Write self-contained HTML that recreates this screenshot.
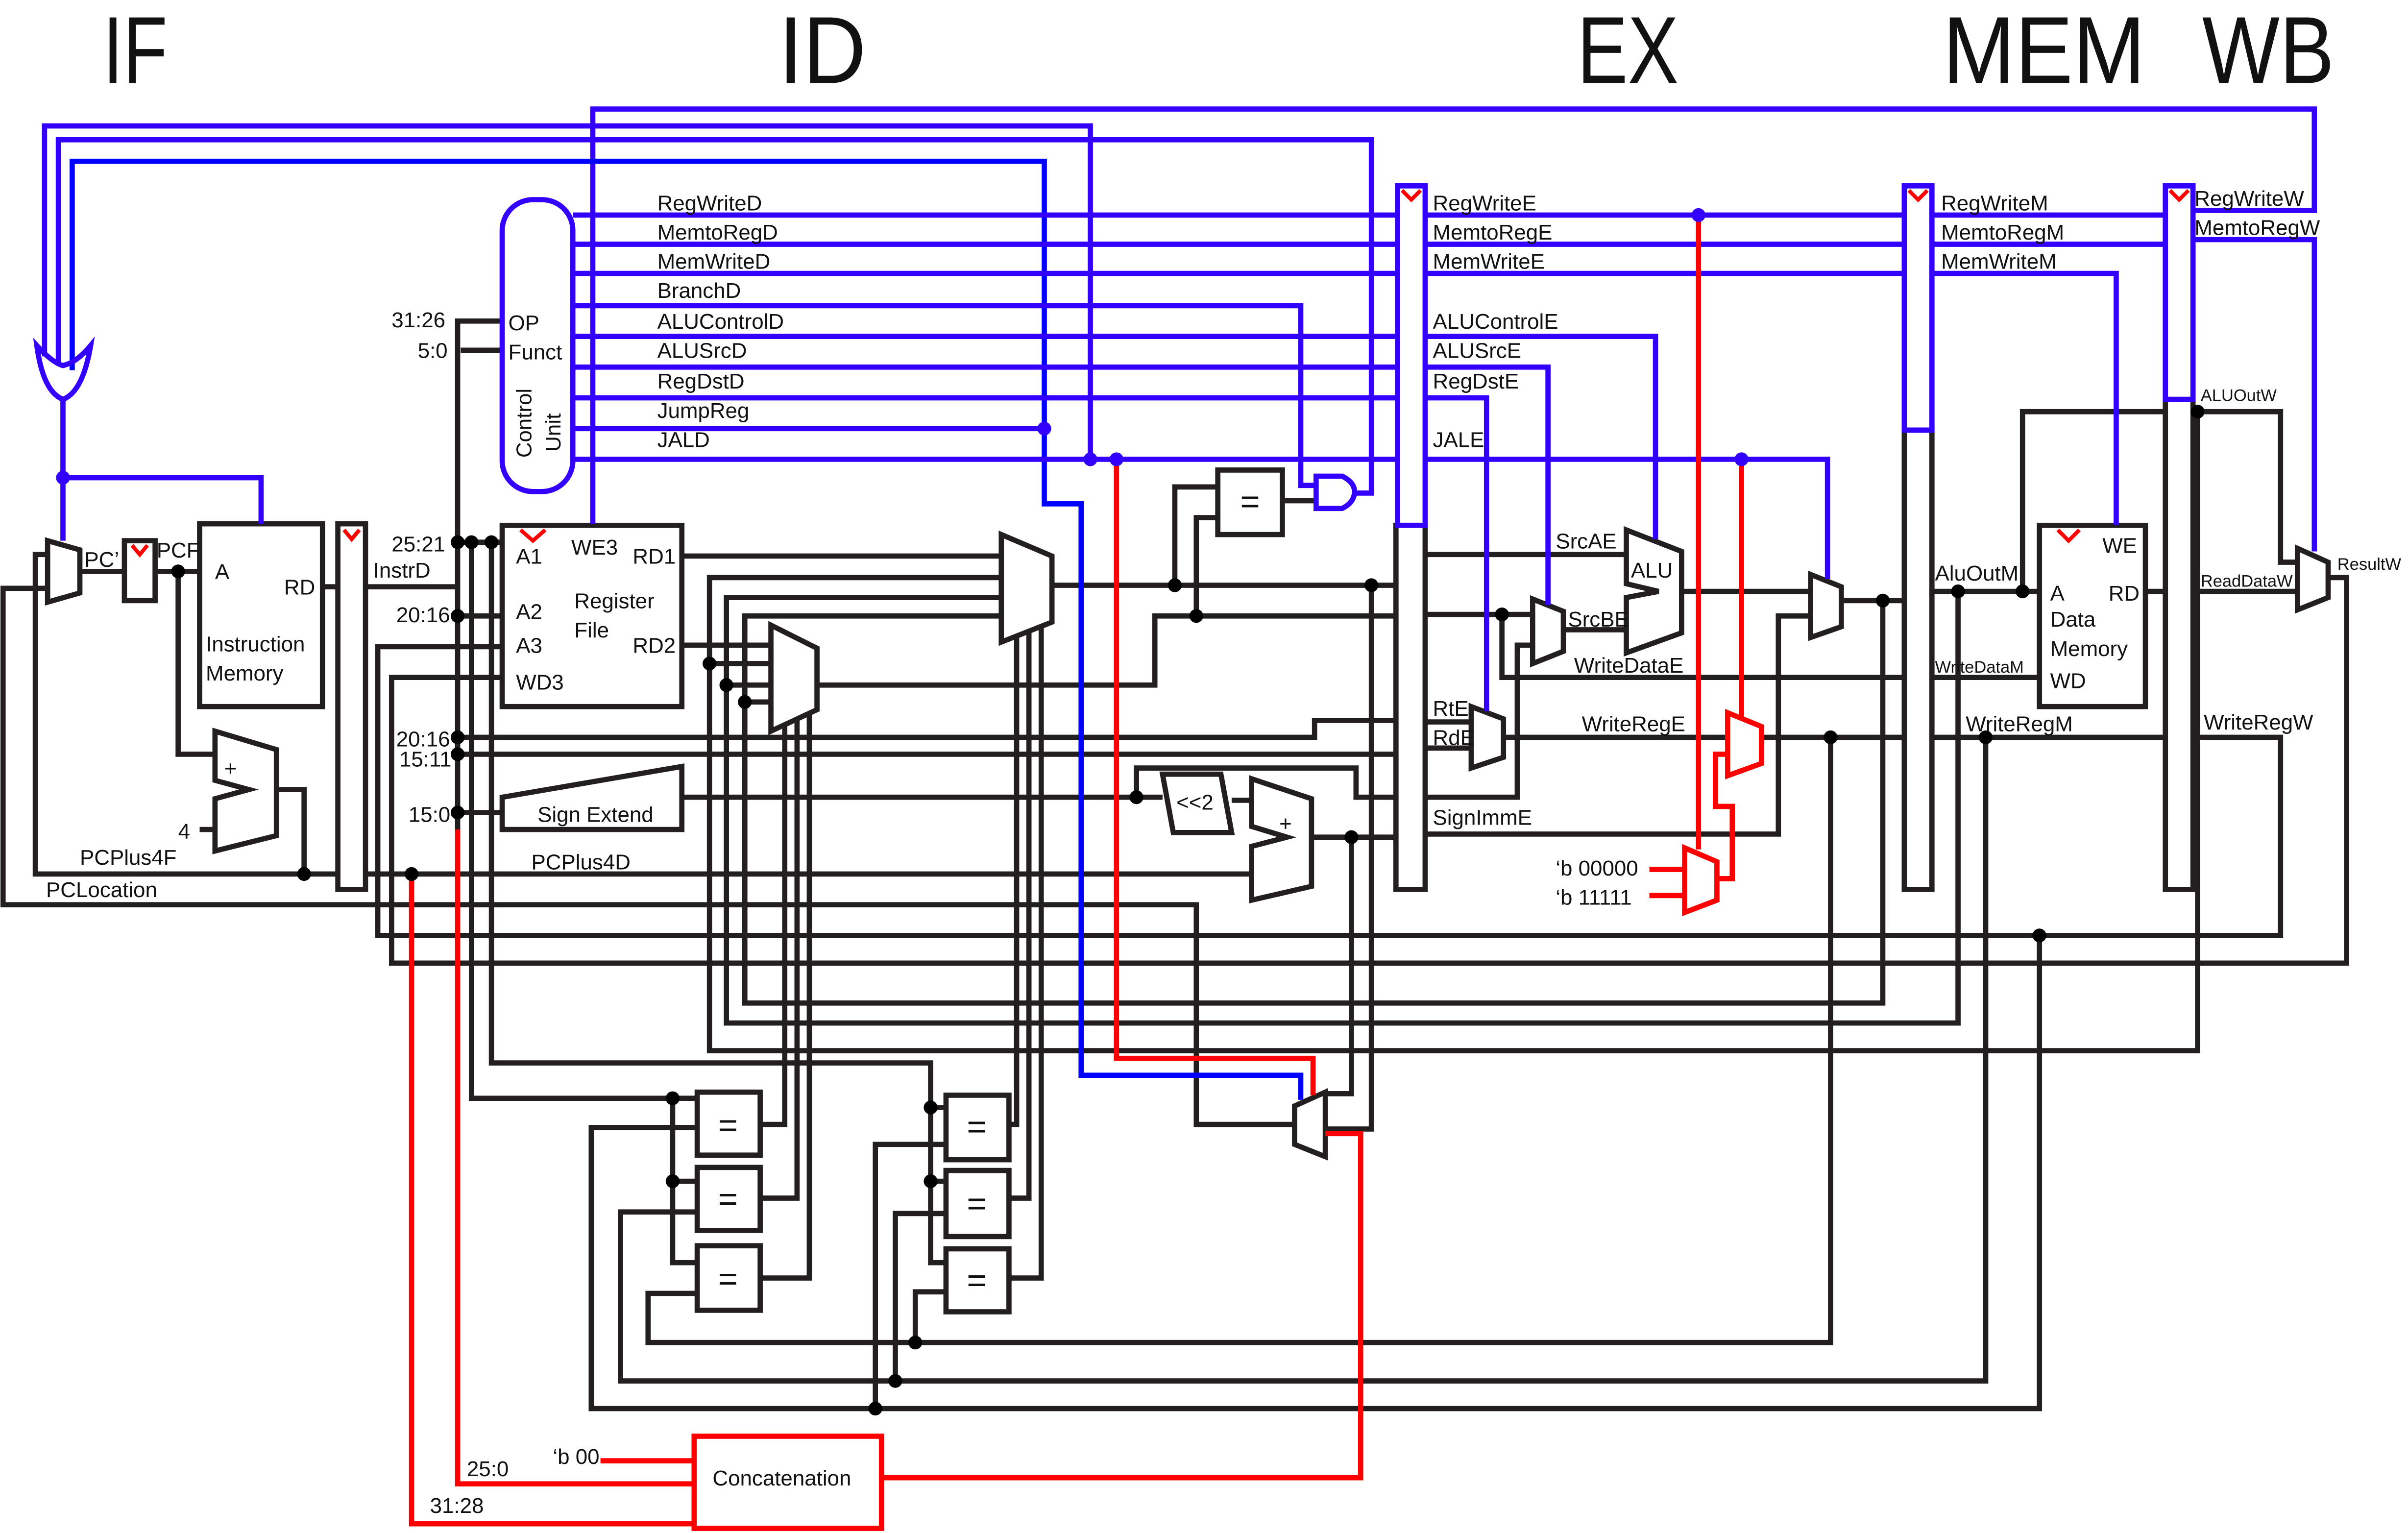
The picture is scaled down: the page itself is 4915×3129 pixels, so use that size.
<!DOCTYPE html>
<html><head><meta charset="utf-8"><style>
html,body{margin:0;padding:0;background:#fff;}
svg{display:block;}
text{font-family:"Liberation Sans",sans-serif;fill:#111;}
</style></head><body>
<svg width="4915" height="3129" viewBox="0 0 1568 998" preserveAspectRatio="none" xmlns="http://www.w3.org/2000/svg">
<rect width="1568" height="998" fill="#fff"/>
<g font-size="62">
<text x="67" y="54" textLength="42" lengthAdjust="spacingAndGlyphs">IF</text>
<text x="507" y="54" textLength="57" lengthAdjust="spacingAndGlyphs">ID</text>
<text x="1027" y="54" textLength="66" lengthAdjust="spacingAndGlyphs">EX</text>
<text x="1265" y="54" textLength="132" lengthAdjust="spacingAndGlyphs">MEM</text>
<text x="1434" y="54" textLength="86" lengthAdjust="spacingAndGlyphs">WB</text>
</g>

<!-- BLACK WIRES -->
<g fill="none" stroke="#231f20" stroke-width="3.4" stroke-linejoin="miter">
<polyline points="52,372 81,372"/>
<polyline points="102,372 130,372"/>
<polyline points="116,372 116,491 140,491"/>
<polyline points="130,540 140,540"/>
<polyline points="180,514 198,514 198,569"/>
<polyline points="32,361 23,361 23,569 220,569"/>
<polyline points="32,383 2,383 2,589 779,589 779,732 843,732"/>
<polyline points="210,382 220,382"/>
<polyline points="239,382 298,382"/>
<polyline points="327,209 298,209 298,540"/>
<polyline points="300,228 327,228"/>
<polyline points="298,353 327,353"/>
<polyline points="307,353 307,715 454,715"/>
<polyline points="320,353 320,692 606,692 606,822 616,822"/>
<polyline points="298,401 327,401"/>
<polyline points="327,421 246,421 246,609 1485,609 1485,480 1428,480"/>
<polyline points="327,441 255,441 255,627 1528,627 1528,376 1516,376"/>
<polyline points="298,480 856,480 856,469 909,469"/>
<polyline points="298,491 909,491"/>
<polyline points="298,529 327,529"/>
<polyline points="239,569 815,569"/>
<polyline points="444,362 652,362"/>
<polyline points="444,420 502,420"/>
<polyline points="652,376 462,376 462,684 1431,684 1431,268"/>
<polyline points="462,432 502,432"/>
<polyline points="652,389 473,389 473,666 1275,666 1275,385"/>
<polyline points="473,446 502,446"/>
<polyline points="652,401 485,401 485,653 1226,653 1226,391"/>
<polyline points="485,457 502,457"/>
<polyline points="532,446 752,446 752,401 909,401"/>
<polyline points="685,381 909,381"/>
<polyline points="765,381 765,317 793,317"/>
<polyline points="779,401 779,337 793,337"/>
<polyline points="835,326 858,326"/>
<polyline points="893,381 893,735 863,735"/>
<polyline points="511,470 511,732 495,732"/>
<polyline points="519,468 519,780 495,780"/>
<polyline points="527,465 527,832 495,832"/>
<polyline points="662,414 662,732 657,732"/>
<polyline points="670,412 670,780 657,780"/>
<polyline points="678,408 678,832 657,832"/>
<polyline points="438,715 438,822 454,822"/>
<polyline points="438,769 454,769"/>
<polyline points="606,721 616,721"/>
<polyline points="606,769 616,769"/>
<polyline points="454,734 385,734 385,917 1328,917 1328,609"/>
<polyline points="454,789 404,789 404,899 1293,899 1293,480"/>
<polyline points="454,842 422,842 422,874 1192,874 1192,480"/>
<polyline points="616,745 570,745 570,917"/>
<polyline points="616,790 583,790 583,899"/>
<polyline points="616,841 596,841 596,874"/>
<polyline points="444,519 757,519"/>
<polyline points="740,519 740,500 883,500 883,519 909,519"/>
<polyline points="802,521 815,521"/>
<polyline points="854,545 909,545"/>
<polyline points="880,545 880,712 863,712"/>
<polyline points="928,361 1059,361"/>
<polyline points="928,400 998,400"/>
<polyline points="978,400 978,441 1240,441"/>
<polyline points="928,519 988,519 988,420 998,420"/>
<polyline points="1018,410 1059,410"/>
<polyline points="1095,385 1179,385"/>
<polyline points="928,543 1158,543 1158,401 1179,401"/>
<polyline points="1199,391 1240,391"/>
<polyline points="928,470 958,470"/>
<polyline points="928,487 958,487"/>
<polyline points="979,480 1240,480"/>
<polyline points="1259,385 1328,385"/>
<polyline points="1317,385 1317,268 1410,268"/>
<polyline points="1259,441 1328,441"/>
<polyline points="1259,480 1410,480"/>
<polyline points="1397,385 1410,385"/>
<polyline points="1428,385 1496,385"/>
<polyline points="1428,268 1485,268 1485,366 1496,366"/>
</g>

<g fill="#fff" stroke="#231f20" stroke-width="3.4">
<polygon points="31,352 52,358 52,386 31,392"/>
<rect x="81" y="352" width="20" height="39"/>
<rect x="130" y="341" width="80" height="119"/>
<polygon points="140,476 180,488 180,544 140,554 140,520 162,514 140,508"/>
<rect x="220" y="341" width="18" height="238"/>
<rect x="327" y="342" width="117" height="118"/>
<polygon points="327,519 444,499 444,540 327,540"/>
<polygon points="652,348 685,362 685,405 652,418"/>
<polygon points="502,407 532,422 532,462 502,476"/>
<rect x="793" y="306" width="42" height="42"/>
<polygon points="757,504 795,504 802,542 764,542"/>
<polygon points="815,507 854,520 854,577 815,586 815,551 838,545 815,538"/>
<polygon points="843,720 863,711 863,753 843,745"/>
<rect x="909" y="342" width="19" height="237"/>
<polygon points="998,390 1018,398 1018,424 998,432"/>
<polygon points="1059,345 1095,359 1095,412 1059,425 1059,389 1080,385 1059,380"/>
<polygon points="958,460 979,468 979,493 958,500"/>
<polygon points="1179,374 1199,382 1199,408 1179,415"/>
<rect x="1240" y="280" width="18" height="299"/>
<rect x="1328" y="342" width="69" height="118"/>
<rect x="1410" y="260" width="18" height="319"/>
<polygon points="1496,357 1516,366 1516,389 1496,397"/>
<rect x="454" y="711" width="41" height="41"/><rect x="454" y="760" width="41" height="41"/><rect x="454" y="811" width="41" height="42"/>
<rect x="616" y="713" width="41" height="42"/><rect x="616" y="762" width="41" height="43"/><rect x="616" y="813" width="41" height="41"/>
</g>
<g font-size="22" text-anchor="middle">
<text x="814" y="334">=</text>
<text x="474" y="740">=</text><text x="474" y="788">=</text><text x="474" y="840">=</text>
<text x="636" y="741">=</text><text x="636" y="791">=</text><text x="636" y="841">=</text>
</g>

<g fill="none" stroke="#3300ff" stroke-width="3.4">
<polyline points="386,341 386,71 1507,71 1507,137 1428,137"/>
<polyline points="1428,156 1507,156 1507,359"/>
<polyline points="29,232 29,82 710,82 710,299"/>
<polyline points="38,236 38,91 893,91 893,321 880,321"/>
<polyline points="47,241 47,105 680,105 680,328 704,328 704,700 847,700 847,716" stroke="#0000ff"/>
<path d="M24,225 Q34,236 41,238 Q50,236 59,225 Q54,255 41,260 Q28,255 24,225 Z"/>
<polyline points="41,260 41,352"/>
<polyline points="41,311 170,311 170,341"/>
<rect x="327" y="130" width="46" height="190" rx="20"/>
<polyline points="373,140 909,140"/><polyline points="373,159 909,159"/><polyline points="373,178 909,178"/>
<polyline points="373,199 847,199 847,316 858,316"/>
<polyline points="373,219 909,219"/><polyline points="373,239 909,239"/><polyline points="373,259 909,259"/>
<polyline points="373,279 680,279"/>
<polyline points="373,299 909,299"/>
<path d="M857,310 L874,310 Q882,314 882,320 Q882,327 874,331 L857,331 Z" fill="#fff"/>
<rect x="910" y="121" width="18" height="221"/>
<polyline points="928,140 1240,140"/><polyline points="928,159 1240,159"/><polyline points="928,178 1240,178"/>
<polyline points="928,219 1078,219 1078,351"/>
<polyline points="928,239 1008,239 1008,394"/>
<polyline points="928,259 968,259 968,463"/>
<polyline points="928,299 1190,299 1190,377"/>
<rect x="1240" y="121" width="18" height="159"/>
<polyline points="1258,140 1410,140"/><polyline points="1258,159 1410,159"/>
<polyline points="1258,178 1378,178 1378,342"/>
<rect x="1410" y="121" width="18" height="139"/>
</g>

<g fill="none" stroke="#ff0000" stroke-width="3.4">
<polyline points="1106,140 1106,553"/>
<polyline points="1134,299 1134,467"/>
<polyline points="727,299 727,689 855,689 855,713"/>
<polyline points="298,540 298,966 452,966"/>
<polyline points="268,569 268,992 452,992"/>
<polyline points="391,951 452,951"/>
<polyline points="573,962 886,962 886,738 863,738"/>
<polyline points="1074,566 1097,566"/><polyline points="1074,583 1097,583"/>
<polyline points="1118,572 1128,572 1128,525 1117,525 1117,491 1125,491"/>
<polygon points="1125,464 1147,473 1147,497 1125,505" fill="#fff"/>
<polygon points="1097,552 1118,561 1118,586 1097,594" fill="#fff"/>
<rect x="452" y="935" width="122" height="60" fill="#fff"/>
</g>
<g fill="none" stroke="#ff0000" stroke-width="2.5">
<polyline points="86,355 91,361 96,355"/><polyline points="224,345 229,351 234,345"/>
<polyline points="339,345 347,352 355,345"/><polyline points="913,124 919,130 925,124"/>
<polyline points="1243,124 1249,130 1255,124"/><polyline points="1413,124 1419,130 1425,124"/>
<polyline points="1340,345 1347,352 1354,345"/>
</g>

<g fill="#000">
<circle cx="116" cy="372" r="4.5"/><circle cx="198" cy="569" r="4.5"/><circle cx="268" cy="569" r="4.5"/>
<circle cx="298" cy="353" r="4.5"/><circle cx="307" cy="353" r="4.5"/><circle cx="320" cy="353" r="4.5"/>
<circle cx="298" cy="401" r="4.5"/><circle cx="298" cy="480" r="4.5"/><circle cx="298" cy="491" r="4.5"/><circle cx="298" cy="529" r="4.5"/>
<circle cx="462" cy="432" r="4.5"/><circle cx="473" cy="446" r="4.5"/><circle cx="485" cy="457" r="4.5"/>
<circle cx="765" cy="381" r="4.5"/><circle cx="779" cy="401" r="4.5"/><circle cx="893" cy="381" r="4.5"/>
<circle cx="740" cy="519" r="4.5"/><circle cx="880" cy="545" r="4.5"/>
<circle cx="438" cy="715" r="4.5"/><circle cx="438" cy="769" r="4.5"/><circle cx="606" cy="721" r="4.5"/><circle cx="606" cy="769" r="4.5"/>
<circle cx="570" cy="917" r="4.5"/><circle cx="583" cy="899" r="4.5"/><circle cx="596" cy="874" r="4.5"/>
<circle cx="978" cy="400" r="4.5"/><circle cx="1226" cy="391" r="4.5"/><circle cx="1192" cy="480" r="4.5"/>
<circle cx="1275" cy="385" r="4.5"/><circle cx="1317" cy="385" r="4.5"/><circle cx="1293" cy="480" r="4.5"/>
<circle cx="1328" cy="609" r="4.5"/><circle cx="1431" cy="268" r="4.5"/>
</g>
<g fill="#3300ff">
<circle cx="41" cy="311" r="4.5"/><circle cx="680" cy="279" r="4.5"/><circle cx="710" cy="299" r="4.5"/><circle cx="727" cy="299" r="4.5"/>
<circle cx="1106" cy="140" r="4.5"/><circle cx="1134" cy="299" r="4.5"/>
</g>

<g font-size="14">
<text x="428" y="137">RegWriteD</text><text x="428" y="156">MemtoRegD</text><text x="428" y="175">MemWriteD</text>
<text x="428" y="194">BranchD</text><text x="428" y="214">ALUControlD</text><text x="428" y="233">ALUSrcD</text>
<text x="428" y="253">RegDstD</text><text x="428" y="272">JumpReg</text><text x="428" y="291">JALD</text>
<text x="933" y="137">RegWriteE</text><text x="933" y="156">MemtoRegE</text><text x="933" y="175">MemWriteE</text>
<text x="933" y="214">ALUControlE</text><text x="933" y="233">ALUSrcE</text><text x="933" y="253">RegDstE</text><text x="933" y="291">JALE</text>
<text x="1264" y="137">RegWriteM</text><text x="1264" y="156">MemtoRegM</text><text x="1264" y="175">MemWriteM</text>
<text x="1429" y="134">RegWriteW</text><text x="1429" y="153">MemtoRegW</text>
<text x="1013" y="357">SrcAE</text><text x="1021" y="408">SrcBE</text><text x="1062" y="376">ALU</text>
<text x="1025" y="438">WriteDataE</text><text x="1030" y="476">WriteRegE</text>
<text x="933" y="466">RtE</text><text x="933" y="485">RdE</text><text x="933" y="537">SignImmE</text>
<text x="1013" y="570">‘b 00000</text><text x="1013" y="589">‘b 11111</text>
<text x="1260" y="378">AluOutM</text><text x="1280" y="476">WriteRegM</text><text x="1435" y="475">WriteRegW</text>
<text x="1369" y="360">WE</text><text x="1335" y="391">A</text><text x="1373" y="391">RD</text>
<text x="1335" y="408">Data</text><text x="1335" y="427">Memory</text><text x="1335" y="448">WD</text>
<text x="766" y="527">&lt;&lt;2</text><text x="833" y="541">+</text><text x="146" y="505">+</text>
<text x="350" y="535">Sign Extend</text><text x="346" y="566">PCPlus4D</text>
<text x="52" y="563">PCPlus4F</text><text x="30" y="584">PCLocation</text><text x="116" y="546">4</text>
<text x="55" y="369">PC’</text><text x="102" y="363">PCF</text>
<text x="140" y="377">A</text><text x="185" y="387">RD</text><text x="134" y="424">Instruction</text><text x="134" y="443">Memory</text>
<text x="243" y="376">InstrD</text>
<text x="255" y="213">31:26</text><text x="272" y="233">5:0</text><text x="255" y="359">25:21</text><text x="258" y="405">20:16</text>
<text x="258" y="486">20:16</text><text x="260" y="499">15:11</text><text x="266" y="535">15:0</text>
<text x="331" y="215">OP</text><text x="331" y="234">Funct</text>
<text x="336" y="367">A1</text><text x="372" y="361">WE3</text><text x="412" y="367">RD1</text>
<text x="336" y="403">A2</text><text x="374" y="396">Register</text><text x="374" y="415">File</text>
<text x="336" y="425">A3</text><text x="412" y="425">RD2</text><text x="336" y="449">WD3</text>
<text x="464" y="967">Concatenation</text><text x="360" y="953">‘b 00</text>
<text x="304" y="961">25:0</text><text x="280" y="985">31:28</text>
<text transform="translate(346,298) rotate(-90)">Control</text>
<text transform="translate(365,294) rotate(-90)">Unit</text>
</g>
<g font-size="11">
<text x="1433" y="261">ALUOutW</text><text x="1522" y="371">ResultW</text>
<text x="1433" y="382">ReadDataW</text><text x="1260" y="438">WriteDataM</text>
</g>
</svg>
</body></html>
